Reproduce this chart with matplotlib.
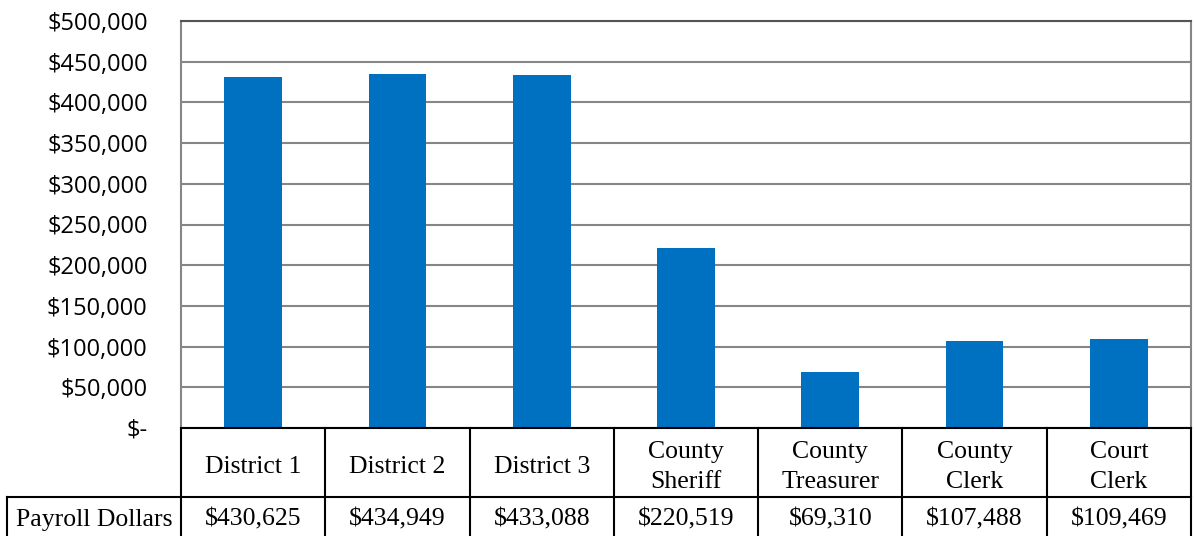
import matplotlib.pyplot as plt
import matplotlib.transforms as mtransforms
from matplotlib.lines import Line2D
from matplotlib.ticker import FuncFormatter
import numpy as np

categories = ["District 1", "District 2", "District 3", "County\nSheriff",
              "County\nTreasurer", "County\nClerk", "Court\nClerk"]
payroll = [430625, 434949, 433088, 220519, 69310, 107488, 109469]
row_label = "Payroll Dollars"
yticks = [0, 50000, 100000, 150000, 200000, 250000, 300000, 350000, 400000, 450000, 500000]

W, H = 1195, 536
fig = plt.figure(figsize=(W / 100, H / 100), dpi=100)

# plot area in pixel coords
px_left, px_right, px_top, px_bottom = 181, 1191, 21, 428
ax = fig.add_axes([px_left / W, 1 - px_bottom / H, (px_right - px_left) / W, (px_bottom - px_top) / H])

x = np.arange(len(categories))
ax.bar(x, payroll, width=0.4, color="#0070C0", zorder=3)
ax.set_xlim(-0.5, len(categories) - 0.5)
ax.set_ylim(0, 500000)
ax.set_yticks(yticks)


def money(v, pos):
    if v == 0:
        return "$-"
    return "${:,.0f}".format(v)


ax.yaxis.set_major_formatter(FuncFormatter(money))
ax.tick_params(axis="y", length=0, pad=24, labelsize=17)
for lab in ax.get_yticklabels():
    lab.set_fontfamily("Open Sans")
ax.set_xticks([])
ax.grid(axis="y", color="#868686", linewidth=1.5, zorder=0)
for s in ["left", "right", "top"]:
    ax.spines[s].set_color("#868686")
    ax.spines[s].set_linewidth(1.5)
ax.spines["top"].set_color("#555555")
ax.spines["bottom"].set_visible(False)

# data table below the chart
tr = mtransforms.blended_transform_factory(ax.transData, fig.transFigure)
y_top = 1 - px_bottom / H
y_mid = 1 - 497 / H
y_bot = 0.0
lw = 1.5
serif = "Liberation Serif"

fig.add_artist(Line2D([-0.5, len(categories) - 0.5], [y_top, y_top], transform=tr, color="black", lw=lw))
fig.add_artist(Line2D([-0.5, len(categories) - 0.5], [y_mid, y_mid], transform=tr, color="black", lw=lw))
for i in range(len(categories) + 1):
    fig.add_artist(Line2D([i - 0.5, i - 0.5], [y_bot, y_top], transform=tr, color="black", lw=lw))

# row label cell
fl = 7 / W
fig.add_artist(Line2D([fl, px_left / W], [y_mid, y_mid], transform=fig.transFigure, color="black", lw=lw))
fig.add_artist(Line2D([fl, fl], [y_bot, y_mid], transform=fig.transFigure, color="black", lw=lw))
fig.text((fl + px_left / W) / 2, (y_mid + y_bot) / 2 - 0.006, row_label, ha="center", va="center",
         fontsize=18.5, family=serif)

for i, (cat, val) in enumerate(zip(categories, payroll)):
    fig.text(i, (y_top + y_mid) / 2 - 0.008, cat, transform=tr, ha="center", va="center",
             fontsize=18.5, family=serif, linespacing=1.45)
    fig.text(i, (y_mid + y_bot) / 2 - 0.006, "${:,}".format(val), transform=tr, ha="center", va="center",
             fontsize=18.5, family=serif)

fig.savefig("out.png", dpi=100)
